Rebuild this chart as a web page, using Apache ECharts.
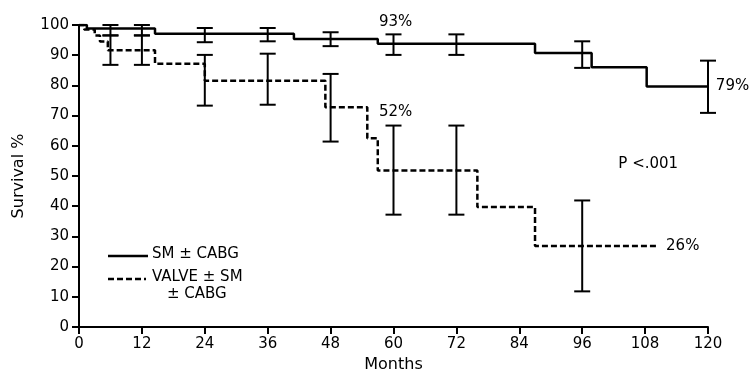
<!DOCTYPE html>
<html>
<head>
<meta charset="utf-8">
<script src="https://cdn.jsdelivr.net/npm/echarts@6/dist/echarts.min.js"></script>
<style>
  html, body { margin: 0; padding: 0; background: #fff; }
  #chart { width: 752px; height: 380px; }
</style>
</head>
<body>
<div id="chart"></div>
<script>
// Kaplan-Meier 曲线：[月份, 生存率]，每个点是下降后的新值
var smCurve = [[0, 100], [1.5, 98.8], [14.5, 97.1], [41, 95.4], [57, 93.8], [87, 90.7], [97.8, 86], [108.3, 79.6], [120, 79.6]];
var valveCurve = [[0, 100], [1, 98.5], [3, 96.5], [4, 94.5], [5.5, 91.6], [14.5, 87.2], [24, 81.5], [47, 72.8], [55, 62.5], [57, 51.8], [76, 39.7], [87, 26.8], [110.5, 26.8]];

// 误差线：[月份, 下限, 上限]
var smErr = [[6, 96.5, 100], [12, 96.5, 100], [24, 94.3, 99], [36, 94.6, 99], [48, 93, 97.6], [60, 90.1, 96.9], [72, 90.1, 96.9], [96, 85.8, 94.6], [120, 70.9, 88.2]];
var valveErr = [[6, 86.8, 96.6], [12, 86.8, 96.6], [24, 73.3, 90.1], [36, 73.6, 90.5], [48, 61.4, 83.8], [60, 37.2, 66.7], [72, 37.2, 66.7], [96, 11.8, 41.9]];

// 标注文字：[月份, 数值, 文字]
var notes = [[60.4, 101, '93%'], [60.4, 71, '52%'], [108.6, 54, 'P <.001']];
var endNotes = [[121.5, 79.6, '79%'], [112, 26.8, '26%']];

var legendNames = ['SM ± CABG', 'VALVE ± SM', '± CABG'];

var FONT = 'DejaVu Sans';

function errRender(params, api) {
  var x = api.value(0);
  var lo = api.coord([x, api.value(1)]);
  var hi = api.coord([x, api.value(2)]);
  var w = 8;
  var st = { stroke: '#000', lineWidth: 2 };
  return {
    type: 'group',
    children: [
      { type: 'line', shape: { x1: lo[0], y1: lo[1], x2: hi[0], y2: hi[1] }, style: st },
      { type: 'line', shape: { x1: lo[0] - w, y1: lo[1], x2: lo[0] + w, y2: lo[1] }, style: st },
      { type: 'line', shape: { x1: hi[0] - w, y1: hi[1], x2: hi[0] + w, y2: hi[1] }, style: st }
    ]
  };
}

var chart = echarts.init(document.getElementById('chart'));
chart.setOption({
  backgroundColor: '#fff',
  animation: false,
  grid: { left: 79, right: 44, top: 25, bottom: 53 },
  xAxis: {
    type: 'value', min: 0, max: 120, interval: 12,
    name: 'Months', nameLocation: 'middle', nameGap: 27,
    nameTextStyle: { fontFamily: FONT, fontSize: 16, color: '#000' },
    axisLine: { lineStyle: { color: '#000', width: 2 } },
    axisTick: { length: 7, lineStyle: { color: '#000', width: 2 } },
    axisLabel: { fontFamily: FONT, fontSize: 15, color: '#000', margin: 10 },
    splitLine: { show: false }
  },
  yAxis: {
    type: 'value', min: 0, max: 100, interval: 10,
    name: 'Survival %', nameLocation: 'middle', nameGap: 52,
    nameTextStyle: { fontFamily: FONT, fontSize: 16, color: '#000' },
    axisLine: { show: true, lineStyle: { color: '#000', width: 2 } },
    axisTick: { show: true, length: 7, lineStyle: { color: '#000', width: 2 } },
    axisLabel: { fontFamily: FONT, fontSize: 15, color: '#000', margin: 10 },
    splitLine: { show: false }
  },
  series: [
    {
      type: 'line', step: 'end', data: smCurve, symbol: 'none',
      lineStyle: { color: '#000', width: 2.5 }
    },
    {
      type: 'line', step: 'end', data: valveCurve, symbol: 'none',
      lineStyle: { color: '#000', width: 2.5, type: [6, 3] }
    },
    { type: 'custom', renderItem: errRender, data: smErr, encode: { x: 0, y: [1, 2] }, clip: false, z: 3 },
    { type: 'custom', renderItem: errRender, data: valveErr, encode: { x: 0, y: [1, 2] }, clip: false, z: 3 },
    {
      type: 'scatter', symbolSize: 0, data: notes, clip: false,
      itemStyle: { opacity: 1 },
      label: {
        show: true, position: 'inside', formatter: function (p) { return p.value[2]; },
        fontFamily: FONT, fontSize: 15, color: '#000', opacity: 1, textBorderWidth: 0
      }
    },
    {
      type: 'scatter', symbolSize: 0, data: endNotes, clip: false,
      itemStyle: { opacity: 1 },
      label: {
        show: true, position: 'right', distance: 0, formatter: function (p) { return p.value[2]; },
        fontFamily: FONT, fontSize: 15, color: '#000', opacity: 1, textBorderWidth: 0
      }
    }
  ],
  graphic: [
    { type: 'line', shape: { x1: 108, y1: 256, x2: 148, y2: 256 }, style: { stroke: '#000', lineWidth: 2.5 } },
    { type: 'line', shape: { x1: 108, y1: 279, x2: 146, y2: 279 }, style: { stroke: '#000', lineWidth: 2.5, lineDash: [6, 3] } },
    { type: 'text', left: 152, top: 247, style: { text: legendNames[0], fontFamily: FONT, fontSize: 15, fill: '#000' } },
    { type: 'text', left: 152, top: 270, style: { text: legendNames[1], fontFamily: FONT, fontSize: 15, fill: '#000' } },
    { type: 'text', left: 167, top: 287, style: { text: legendNames[2], fontFamily: FONT, fontSize: 15, fill: '#000' } }
  ]
});
</script>
</body>
</html>
